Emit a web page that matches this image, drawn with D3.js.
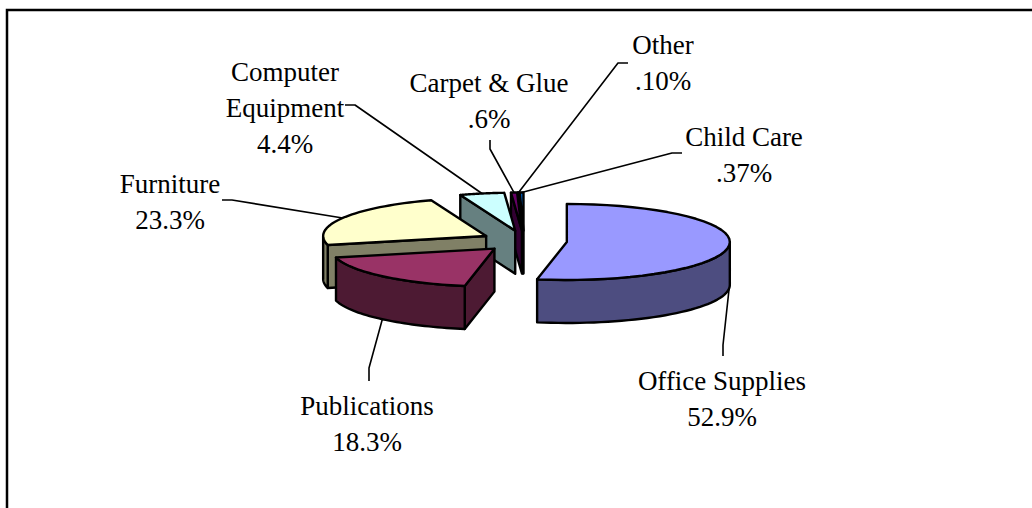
<!DOCTYPE html>
<html lang="en">
<head>
  <meta charset="UTF-8" />
  <title>Spending by Category</title>
  <script src="https://d3js.org/d3.v7.min.js"></script>
  <style>
    html, body { margin: 0; padding: 0; background: #fff; overflow: hidden; }
    text { font-family: 'Liberation Serif', serif; font-size: 27px; fill: #000; text-anchor: middle; }
    .frame { fill: none; stroke: #000; stroke-width: 2.5px; }
    .leader { fill: none; stroke: #000; stroke-width: 1.6px; stroke-linejoin: round; }
    .face { stroke: #000; stroke-width: 2.4px; stroke-linejoin: round; }
  </style>
</head>
<body>
  <svg id="chart" width="1032" height="508"></svg>
  <script>
    const categories = ["Office Supplies", "Publications", "Furniture", "Computer Equipment", "Carpet & Glue", "Other", "Child Care"];
    const shares = [52.9, 18.3, 23.3, 4.4, 0.6, 0.1, 0.37];
    const shareLabels = ["52.9%", "18.3%", "23.3%", "4.4%", ".6%", ".10%", ".37%"];
    const topColors = ["#9999FF", "#993366", "#FFFFCC", "#CCFFFF", "#660066", "#FF8080", "#0066CC"];

    // Label text lines, block centre x and first baseline
    const labelLines = [["Office Supplies"], ["Publications"], ["Furniture"], ["Computer", "Equipment"], ["Carpet & Glue"], ["Other"], ["Child Care"]];
    const labelX = [722, 367, 170, 285, 489, 663, 744];
    const labelY = [390, 415, 193, 81, 92, 54, 146];
    const lineStep = 36;
    // Leader: elbow near the label, then the stub end
    const leaderElbows = [[[723, 345], [723, 356]], [[369, 368], [369, 381]], [[232, 200], [222, 200]], [[355, 105], [345, 105]], [[490, 149], [490, 140]], [[618, 63], [628, 63]], [[672, 153], [682, 153]]];

    const svg = d3.select("#chart");
    svg.append("path").attr("class", "frame").attr("d", "M7,508V10H1032");

    // Pie geometry: flat ellipse plus a wall depth, slices pushed out along their mid angle
    const cx = 524, cy = 241, rx = 163, ry = 38, depth = 43, explodeX = 43, explodeY = 10.5;

    const pie = d3.pie().sort(null).value(d => d.share);
    const slices = pie(categories.map((name, i) => ({ name, share: shares[i], color: topColors[i], i })));

    function project(angle, apex) {
      return [apex[0] + rx * Math.sin(angle), apex[1] - ry * Math.cos(angle)];
    }
    slices.forEach(s => {
      s.mid = (s.startAngle + s.endAngle) / 2;
      s.apex = [cx + explodeX * Math.sin(s.mid), cy - explodeY * Math.cos(s.mid)];
    });

    const arcPoints = (s, a0, a1) => d3.range(0, 41).map(k => project(a0 + (a1 - a0) * k / 40, s.apex));
    const drop = p => [p[0], p[1] + depth];
    const line = d3.line();

    // Back-to-front: the exploded slices sit further forward the lower they are on the page
    const drawOrder = [6, 5, 4, 3, 2, 0, 1];
    const g = svg.append("g");

    drawOrder.forEach(i => {
      const s = slices[i];
      const wall = d3.rgb(s.data.color);
      wall.r /= 2; wall.g /= 2; wall.b /= 2;
      const slice = g.append("g");
      const startEdge = project(s.startAngle, s.apex);

      // cut face at the start angle, faces the viewer for every slice but the first
      if (i > 0) {
        slice.append("path").attr("class", "face").attr("fill", wall.formatHex())
          .attr("d", line([s.apex, startEdge, drop(startEdge), drop(s.apex)]) + "Z");
      }
      // outer wall, only the front half of the ellipse
      const a0 = Math.max(s.startAngle, Math.PI / 2);
      const a1 = Math.min(s.endAngle, Math.PI * 1.5);
      if (a1 > a0) {
        const outer = arcPoints(s, a0, a1);
        slice.append("path").attr("class", "face").attr("fill", wall.formatHex())
          .attr("d", line(outer.concat(outer.map(drop).reverse())) + "Z");
      }
      // top face
      slice.append("path").attr("class", "face").attr("fill", s.data.color)
        .attr("d", line([s.apex].concat(arcPoints(s, s.startAngle, s.endAngle))) + "Z");
    });

    // Leader lines start on the rim of the slice, on its wall for the front slices
    slices.forEach((s, i) => {
      let p = project(s.mid, s.apex);
      if (s.mid > Math.PI / 2 && s.mid < Math.PI * 1.5) p = drop(p);
      svg.append("path").attr("class", "leader").attr("d", line([p].concat(leaderElbows[i])));
    });

    // Data labels
    slices.forEach((s, i) => {
      labelLines[i].concat(shareLabels[i]).forEach((t, k) => {
        svg.append("text").attr("x", labelX[i]).attr("y", labelY[i] + k * lineStep).text(t);
      });
    });
  </script>
</body>
</html>
